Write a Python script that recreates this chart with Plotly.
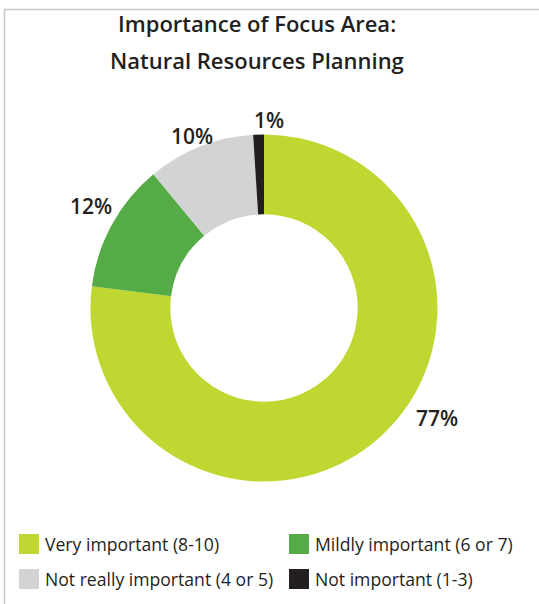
import plotly.graph_objects as go

# Survey results: importance of the natural resources planning focus area
categories = [
    "Very important (8-10)",
    "Mildly important (6 or 7)",
    "Not really important (4 or 5)",
    "Not important (1-3)",
]
shares = [77, 12, 10, 1]
colors = ["#bfd730", "#55ab45", "#d1d3d4", "#231f20"]

title_lines = ["Importance of Focus Area:", "Natural Resources Planning"]

W, H = 539, 604
TEXT = "#231f20"
FONT = "Open Sans"


def px(x):
    return x / W


def py(y):
    return 1 - y / H


fig = go.Figure()

# donut: outer radius ~173px centred at (264, 308)
cx, cy, r = 264, 308, 173.5
fig.add_trace(go.Pie(
    labels=categories,
    values=shares,
    marker=dict(colors=colors, line=dict(width=0)),
    hole=0.54,
    sort=False,
    direction="clockwise",
    rotation=0,
    textinfo="none",
    hoverinfo="label+percent",
    showlegend=False,
    domain=dict(x=[px(cx - r), px(cx + r)], y=[py(cy + r), py(cy - r)]),
))

annotations = []

# two-line title, each line placed separately for wider spacing
for line, ty in zip(title_lines, [23, 60]):
    annotations.append(dict(
        x=px(257), y=py(ty), xref="paper", yref="paper",
        text=line, showarrow=False,
        font=dict(family=FONT, size=22, color=TEXT, weight=600),
        xanchor="center", yanchor="middle", align="center",
    ))

# percentage labels placed just outside each slice
label_pos = [(437, 418), (91, 206), (192, 136), (269, 120)]
for v, (lx, ly) in zip(shares, label_pos):
    annotations.append(dict(
        x=px(lx), y=py(ly), xref="paper", yref="paper",
        text=f"{v}%", showarrow=False,
        font=dict(family=FONT, size=21, color=TEXT, weight=600),
        xanchor="center", yanchor="middle",
    ))

# two-column legend with square swatches
shapes = []
legend_cols = [19, 289]
legend_rows = [544, 579]
sw = 20
for i, (name, col) in enumerate(zip(categories, colors)):
    lx = legend_cols[i % 2]
    ly = legend_rows[i // 2]
    shapes.append(dict(
        type="rect", xref="paper", yref="paper",
        x0=px(lx), x1=px(lx + sw), y0=py(ly + sw / 2), y1=py(ly - sw / 2),
        fillcolor=col, line=dict(width=0),
    ))
    annotations.append(dict(
        x=px(lx + sw + 4), y=py(ly), xref="paper", yref="paper",
        text=name, showarrow=False,
        font=dict(family=FONT, size=17.6, color=TEXT),
        xanchor="left", yanchor="middle",
    ))

# light frame around the panel
shapes.append(dict(
    type="rect", xref="paper", yref="paper",
    x0=px(4.5), x1=px(W + 20), y0=py(H + 20), y1=py(9.5),
    line=dict(color="#c8c8c8", width=1.5), fillcolor="rgba(0,0,0,0)",
    layer="below",
))

fig.update_layout(
    width=W, height=H,
    margin=dict(l=0, r=0, t=0, b=0),
    paper_bgcolor="white", plot_bgcolor="white",
    annotations=annotations, shapes=shapes,
    showlegend=False,
)

fig.write_html("out.html")
